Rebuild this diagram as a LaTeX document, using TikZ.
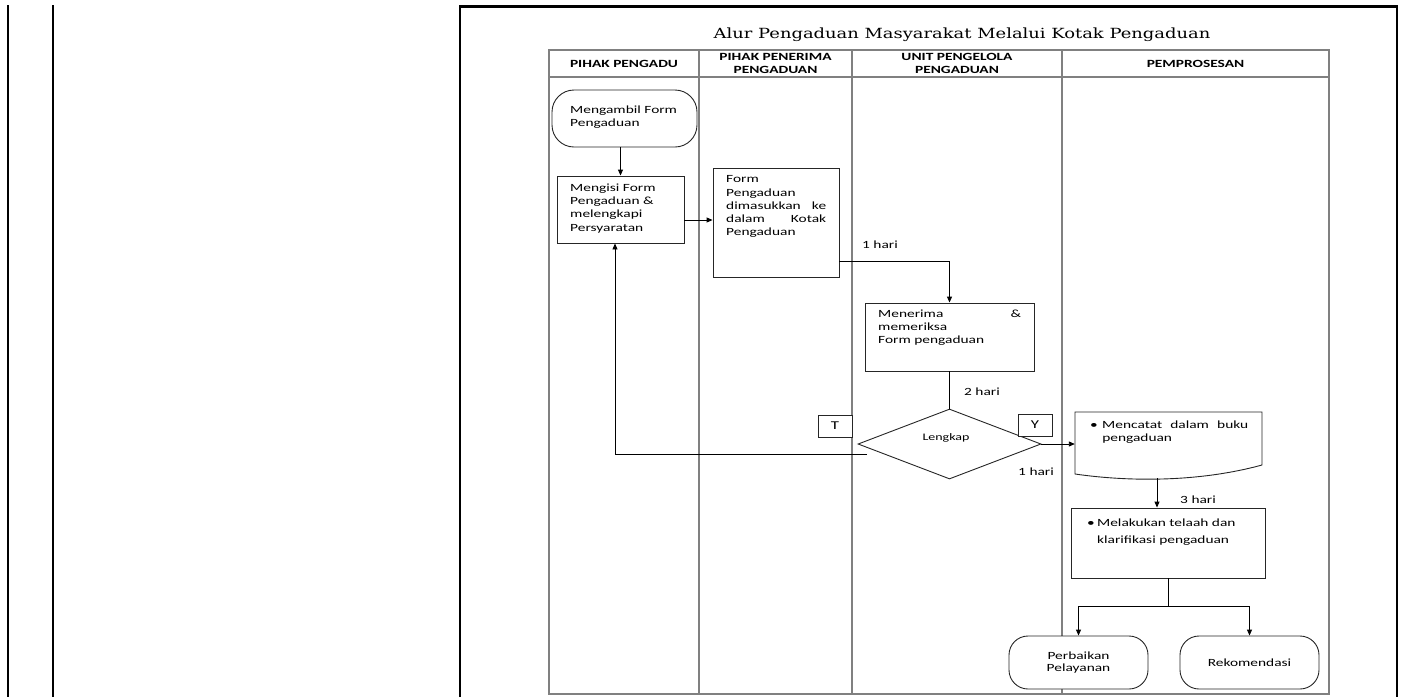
\documentclass[tikz,border=0pt]{standalone}
\usepackage{graphicx}
\usepackage{fontspec}
\setmainfont{Carlito}
\newfontfamily\titlefont{DejaVu Serif}[FakeStretch=1.28]
\usetikzlibrary{arrows.meta,shapes.geometric}
% wide-set text: every line is stretched horizontally
\newcommand\xs[1]{\scalebox{1.4}[1]{#1}}
% a wide-set line spread to a fixed (unstretched) width
\newcommand\jl[2]{\xs{\makebox[#1][s]{#2}}}

\begin{document}
\begin{tikzpicture}[x=1pt,y=-1pt,
  frame/.style={draw=black,line width=2.2pt},
  lane/.style={draw=black!50,line width=1.1pt},
  box/.style={draw=black!85,line width=0.9pt,fill=white,inner sep=0pt},
  term/.style={box,rounded corners=#1},
  txt/.style={inner sep=0pt,anchor=north west,align=left,
    font=\fontsize{11}{13.3}\selectfont},
  hdr/.style={inner sep=0pt,align=center,
    font=\fontsize{11}{13}\selectfont\bfseries},
  note/.style={inner sep=0pt,anchor=west,font=\fontsize{11}{13}\selectfont},
  link/.style={draw=black,line width=0.9pt},
  arr/.style={link,-{Triangle[length=6pt,width=5pt]}}
]
\useasboundingbox (0,0) rectangle (1403,697);

% page frame
\draw[frame] (8,5) -- (8,697);
\draw[frame] (53,5) -- (53,697);
\draw[frame] (460,697) -- (460,6.5) -- (1397,6.5) -- (1397,697);

% title
\node[inner sep=0pt,anchor=base] (title) at (962,38)
  {\titlefont\fontsize{14}{16}\selectfont Alur Pengaduan Masyarakat Melalui Kotak Pengaduan};

% swimlanes
\draw[lane] (549,50) rectangle (1329,694);
\draw[lane] (549,77) -- (1329,77);
\draw[lane] (699,50) -- (699,694);
\draw[lane] (852,50) -- (852,694);
\draw[lane] (1062,50) -- (1062,694);

\node[hdr] (h1) at (624,64) {\xs{PIHAK PENGADU}};
\node[hdr] (h2) at (775.5,63.5) {\xs{PIHAK PENERIMA}\\\xs{PENGADUAN}};
\node[hdr] (h3) at (957,63.5) {\xs{UNIT PENGELOLA}\\\xs{PENGADUAN}};
\node[hdr] (h4) at (1195.5,64) {\xs{PEMPROSESAN}};

% pihak pengadu
\node[term=22pt,minimum width=145pt,minimum height=57pt] (ambil) at (624.5,118.5) {};
\node[txt] (ambilT) at (570,105.5) {\xs{Mengambil Form}\\\xs{Pengaduan}};

\node[box,minimum width=127pt,minimum height=67pt] (mengisi) at (620.5,209.5) {};
\node[txt] (mengisiT) at (570,183.5)
  {\xs{Mengisi Form}\\\xs{Pengaduan \&}\\\xs{melengkapi}\\\xs{Persyaratan}};

% pihak penerima
\node[box,minimum width=126pt,minimum height=109pt] (form) at (776,222.5) {};
\node[txt] (formT) at (726,175.5)
  {\xs{Form}\\\xs{Pengaduan}\\\jl{71.4pt}{dimasukkan ke}\\\jl{71.4pt}{dalam Kotak}\\\xs{Pengaduan}};

% unit pengelola
\node[box,minimum width=169pt,minimum height=68pt] (terima) at (949.5,337) {};
\node[txt] (terimaT) at (878,309.5)
  {\jl{102pt}{Menerima \&}\\\xs{memeriksa}\\\xs{Form pengaduan}};

\node[diamond,box,minimum width=183pt,minimum height=70pt] (cek) at (949.5,444) {};
\node[inner sep=0pt,font=\fontsize{10}{12}\selectfont] (cekT) at (946,438) {\xs{Lengkap}};

\node[box,minimum width=34pt,minimum height=22pt,font=\fontsize{12}{14}\selectfont] (tidak) at (835,426) {\xs{T}};
\node[box,minimum width=34pt,minimum height=22pt,font=\fontsize{12}{14}\selectfont] (ya) at (1035,425) {\xs{Y}};

% pemprosesan
\node[inner sep=0pt,minimum width=187pt,minimum height=66pt] (catat) at (1168.5,445) {};
\draw[box] (1075,412) -- (1262,412) -- (1262,465)
  .. controls (1200,482) and (1130,482) .. (1075,474) -- cycle;
\node[txt] (catatT) at (1090,420.5)
  {\xs{\makebox[8.6pt][l]{•}\makebox[104.3pt][s]{Mencatat dalam buku}}\\\xs{\hspace*{8.6pt}pengaduan}};

\node[box,minimum width=194pt,minimum height=70pt] (telaah) at (1168,543) {};
\node[txt,font=\fontsize{11}{17}\selectfont] (telaahT) at (1087,518.5)
  {\xs{\makebox[7.1pt][l]{•}Melakukan telaah dan}\\\xs{\hspace*{7.1pt}klarifikasi pengaduan}};

\node[term=19pt,minimum width=139pt,minimum height=53pt,align=center,
  font=\fontsize{11}{12.5}\selectfont] (baik) at (1078.5,662.5) {\xs{Perbaikan}\\\xs{Pelayanan}};
\node[term=19pt,minimum width=139pt,minimum height=53pt,
  font=\fontsize{11}{13}\selectfont] (rekom) at (1249.5,662.5) {\xs{Rekomendasi}};

% connectors
\draw[arr] (mengisi.north |- ambil.south) -- (mengisi.north);
\draw[arr] ([yshift=-10.5pt]mengisi.east) -- ([yshift=-10.5pt]mengisi.east -| form.west);
\draw[arr] ([yshift=-38.5pt]form.east) -| (terima.north);
\node[note] (d1) at (862,245) {\xs{1 hari}};

\draw[link] (terima.south) -- (cek.north);
\node[note] (d2) at (964,392) {\xs{2 hari}};

\coordinate (back) at (867,454);
\draw[arr] (back) -| ([xshift=-5.5pt]mengisi.south);

\draw[arr] (cek.east) -- (cek.east -| catat.west);
\node[note] (d3) at (1018,472) {\xs{1 hari}};

\draw[arr] ([xshift=-11.5pt]catat.south) -- ([xshift=-11.5pt]catat.south |- telaah.north);
\node[note] (d4) at (1180,500) {\xs{3 hari}};

\coordinate (split) at (1168,606);
\draw[link] (telaah.south) -- (split);
\draw[arr] (split) -| (baik.north);
\draw[arr] (split) -| (rekom.north);
\end{tikzpicture}
\end{document}
